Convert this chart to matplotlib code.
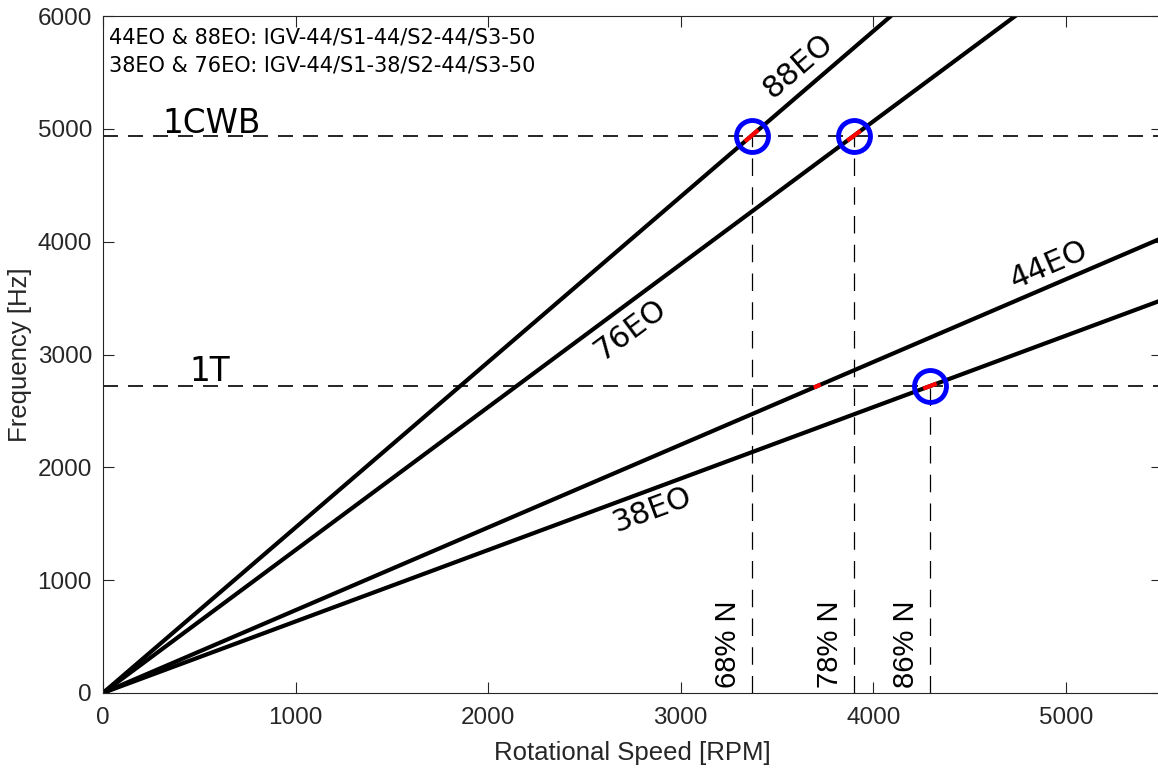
import numpy as np
import matplotlib.pyplot as plt

# engine orders and mode frequencies
eo_orders = [88, 76, 44, 38]
eo_labels = ['88EO', '76EO', '44EO', '38EO']
label_pos = [(3610, 5560), (2740, 3220), (4910, 3790), (2850, 1620)]
mode_names = ['1CWB', '1T']
mode_freqs = [4940, 2720]
mode_label_pos = [(310, 4960), (450, 2765)]

# crossings (order, mode freq, half width of red mark in rpm, circle?)
cross_order = [88, 76, 44, 38]
cross_freq = [4940, 4940, 2720, 2720]
cross_half = [35, 35, 18, 35]
cross_circle = [True, True, False, True]

# speed lines
speed_rpm = [3368, 3900, 4295]
speed_top = [4940, 4940, 2720]
speed_text = ['68% N', '78% N', '86% N']

rpm = np.array([0, 5500])
gray = '#262626'

fig = plt.figure(figsize=(11.58, 7.69), dpi=100)
ax = fig.add_axes([0.089, 0.099, 0.9145, 0.880])

for eo, lab, (tx, ty) in zip(eo_orders, eo_labels, label_pos):
    ax.plot(rpm, eo * rpm / 60, color='black', lw=3, solid_capstyle='butt')
    ang = np.degrees(np.arctan(eo / 60 * (677 / 6000) / (1059 / 5500)))
    ax.text(tx, ty, lab, fontsize=22, rotation=ang, ha='center', va='center')

for f, name, (tx, ty) in zip(mode_freqs, mode_names, mode_label_pos):
    ax.plot([0, 5500], [f, f], color='black', lw=1.2, ls=(0, (9, 6)))
    ax.text(tx, ty, name, fontsize=23.5, ha='left', va='baseline')

for x, top, t in zip(speed_rpm, speed_top, speed_text):
    ax.plot([x, x], [0, top], color='black', lw=0.9, ls=(0, (14, 9)))
    ax.text(x - 50, 40, t, fontsize=21, rotation=90, ha='right', va='bottom',
            family='Liberation Sans')

for eo, f, h, c in zip(cross_order, cross_freq, cross_half, cross_circle):
    x0 = f * 60 / eo
    xs = np.array([x0 - h, x0 + h])
    ax.plot(xs, eo * xs / 60, color='red', lw=3, solid_capstyle='butt')
    if c:
        ax.plot(x0, f, 'o', ms=23, mfc='none', mec='#0000ff', mew=3.5)

ax.text(30, 5810, '44EO & 88EO: IGV-44/S1-44/S2-44/S3-50', fontsize=15, va='center')
ax.text(30, 5560, '38EO & 76EO: IGV-44/S1-38/S2-44/S3-50', fontsize=15, va='center')

ax.set_xlim(0, 5500)
ax.set_ylim(0, 6000)
ax.set_xticks(np.arange(0, 5001, 1000))
ax.set_yticks(np.arange(0, 6001, 1000))
ax.tick_params(direction='in', top=True, right=True, length=8, width=0.8,
               colors=gray, labelsize=17.5)
ax.tick_params(axis='x', pad=10)
ax.tick_params(axis='y', pad=8)
for lab in ax.get_xticklabels() + ax.get_yticklabels():
    lab.set_family('Liberation Sans')
for s in ax.spines.values():
    s.set_color(gray)
    s.set_linewidth(0.8)
ax.set_xlabel('Rotational Speed [RPM]', fontsize=18.5, color=gray,
              family='Liberation Sans', labelpad=9)
ax.set_ylabel('Frequency [Hz]', fontsize=18.5, color=gray,
              family='Liberation Sans', labelpad=4)

fig.savefig('out.png', dpi=100)
